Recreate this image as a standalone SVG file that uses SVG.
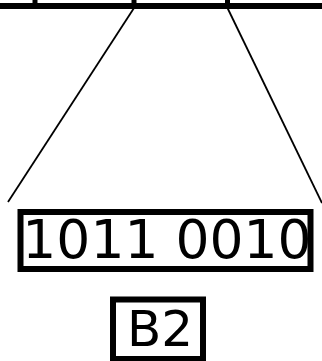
<svg xmlns="http://www.w3.org/2000/svg" width="322" height="361" viewBox="0 0 322 361">
<style>
.bar{stroke:#000;stroke-width:6;fill:none}
.tick{stroke:#000;stroke-width:5;fill:none}
.conn{stroke:#000;stroke-width:1.8;fill:none}
.box{fill:#fff;stroke:#000;stroke-width:6}
.lbl{font-family:"DejaVu Sans",sans-serif;fill:#000;text-anchor:middle}
</style>
<rect width="322" height="361" fill="#fff"/>
<g id="bus">
<line class="bar" x1="0" y1="6" x2="322" y2="6"/>
<line class="tick" x1="35" y1="0" x2="35" y2="6"/>
<line class="tick" x1="134" y1="0" x2="134" y2="6"/>
<line class="tick" x1="227.5" y1="0" x2="227.5" y2="6"/>
</g>
<g id="connectors">
<line class="conn" x1="134" y1="8" x2="8" y2="202"/>
<line class="conn" x1="227.5" y1="8" x2="322" y2="203"/>
</g>
<g id="binary">
<rect class="box" x="20.5" y="212" width="290" height="57"/>
<text class="lbl" x="167" y="258" font-size="53.5">1011 0010</text>
</g>
<g id="hex">
<rect class="box" x="113" y="299.5" width="90" height="59.5"/>
<text class="lbl" x="160" y="346" font-size="50">B2</text>
</g>
</svg>
